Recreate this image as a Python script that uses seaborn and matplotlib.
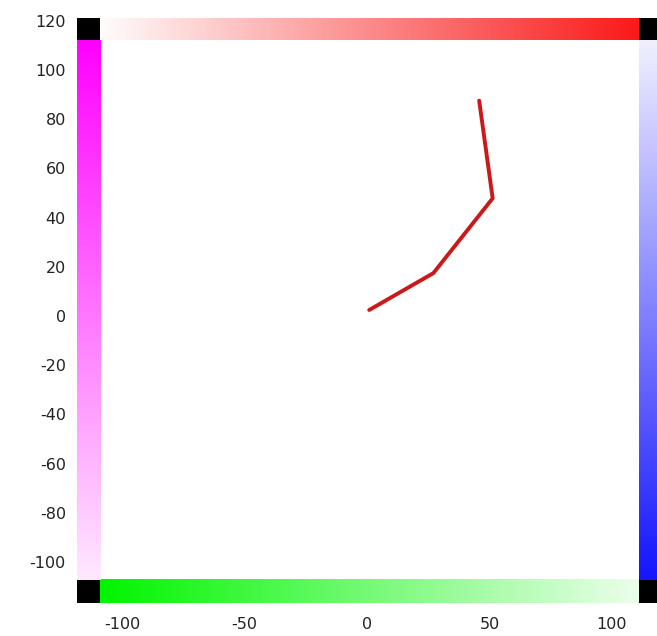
import numpy as np
import pandas as pd
import matplotlib
matplotlib.use("Agg")
import matplotlib.pyplot as plt
import seaborn as sns

# Data
path_x = [0.9, 27.1, 51.3, 45.8]
path_y = [2.4, 17.4, 47.8, 87.5]
x_ticks = [-100, -50, 0, 50, 100]
y_ticks = [-100, -80, -60, -40, -20, 0, 20, 40, 60, 80, 100, 120]

sns.set_theme(style="white")
plt.rcParams['font.family'] = ['DejaVu Sans']
plt.rcParams['axes.unicode_minus'] = False

W, H = 657, 636
fig = plt.figure(figsize=(W / 100, H / 100), dpi=100)
ax = fig.add_axes([77 / W, 1 - 603 / H, (657 - 77) / W, (603 - 18) / H])

XMIN, XMAX = -118.4, 118.4
YMIN, YMAX = -116.7, 121.1
ax.set_xlim(XMIN, XMAX)
ax.set_ylim(YMIN, YMAX)

# frame geometry (data units)
inL, inR = -109.0, 111.0
inB, inT = -107.3, 112.2

def grad(c0, c1, n=256, vertical=False):
    c0 = np.array(c0) / 255.0
    c1 = np.array(c1) / 255.0
    t = np.linspace(0, 1, n)[:, None]
    arr = c0 * (1 - t) + c1 * t
    if vertical:
        return arr[:, None, :]
    return arr[None, :, :]

# top bar: white -> red (left to right)
ax.imshow(grad((255, 252, 252), (250, 25, 25)), extent=[inL, inR, inT, YMAX],
          origin='lower', aspect='auto', interpolation='bilinear', zorder=1)
# bottom bar: green -> pale green
ax.imshow(grad((0, 245, 0), (235, 255, 235)), extent=[inL, inR, YMIN, inB],
          origin='lower', aspect='auto', interpolation='bilinear', zorder=1)
# left bar: pale pink (bottom) -> magenta (top)
ax.imshow(grad((255, 232, 255), (255, 0, 255), vertical=True), extent=[XMIN, inL, inB, inT],
          origin='lower', aspect='auto', interpolation='bilinear', zorder=1)
# right bar: blue (bottom) -> pale (top)
ax.imshow(grad((20, 20, 255), (240, 240, 255), vertical=True), extent=[inR, XMAX, inB, inT],
          origin='lower', aspect='auto', interpolation='bilinear', zorder=1)

# corner squares
for (x0, x1) in [(XMIN, inL), (inR, XMAX)]:
    for (y0, y1) in [(YMIN, inB), (inT, YMAX)]:
        ax.fill_between([x0, x1], y0, y1, color='black', lw=0, zorder=2)

df = pd.DataFrame({"x": path_x, "y": path_y})
sns.lineplot(data=df, x="x", y="y", sort=False, estimator=None, ax=ax,
             color='#cc1818', lw=2.8, zorder=3)

ax.set_xlabel("")
ax.set_ylabel("")
ax.set_xticks(x_ticks)
ax.set_yticks(y_ticks)
ax.tick_params(axis='both', length=0, labelsize=11.5, colors='#222222')
ax.tick_params(axis='y', pad=8)
ax.tick_params(axis='x', pad=10)
for s in ax.spines.values():
    s.set_visible(False)
ax.set_facecolor('white')

fig.savefig("out.png", dpi=100, facecolor='white')
